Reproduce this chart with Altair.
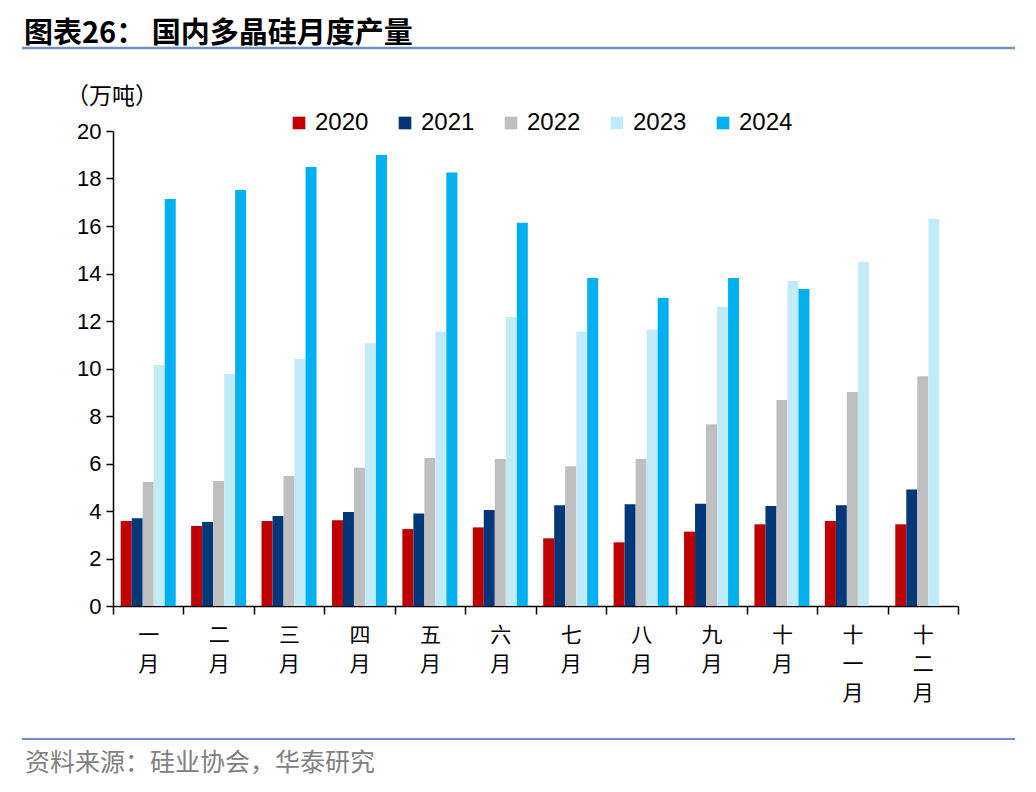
import altair as alt
import pandas as pd

months = ["一 月", "二 月", "三 月", "四 月", "五 月", "六 月",
          "七 月", "八 月", "九 月", "十 月", "十 一 月", "十 二 月"]
years = ["2020", "2021", "2022", "2023", "2024"]
v2020 = [3.58, 3.37, 3.58, 3.61, 3.24, 3.31, 2.85, 2.68, 3.13, 3.44, 3.58, 3.44]
v2021 = [3.69, 3.54, 3.79, 3.96, 3.90, 4.04, 4.24, 4.28, 4.31, 4.21, 4.24, 4.91]
v2022 = [5.22, 5.26, 5.47, 5.82, 6.23, 6.19, 5.88, 6.19, 7.65, 8.67, 9.01, 9.67]
v2023 = [10.15, 9.77, 10.40, 11.06, 11.55, 12.17, 11.55, 11.64, 12.60, 13.68, 14.50, 16.29]
v2024 = [17.14, 17.52, 18.48, 18.99, 18.25, 16.14, 13.81, 12.97, 13.81, 13.35, None, None]
colors = ["#C00000", "#003778", "#BFBFBF", "#C2EBF9", "#00B0F0"]

series = [v2020, v2021, v2022, v2023, v2024]
rows = []
for y, vals in zip(years, series):
    for m, v in zip(months, vals):
        if v is not None:
            rows.append({"月份": m, "年份": y, "产量": v})
df = pd.DataFrame(rows)

CJK = "Noto Sans CJK SC"

bars = alt.Chart(df).mark_bar().encode(
    x=alt.X("月份:N", sort=months,
            scale=alt.Scale(paddingInner=0, paddingOuter=0),
            axis=alt.Axis(title=None, labelAngle=0,
                          labelExpr="split(datum.label, ' ')",
                          tickBand="extent", tickSize=8, tickColor="black",
                          domainColor="black", tickWidth=1.5, domainWidth=1.5,
                          labelFont=CJK, labelFontSize=21, labelLineHeight=29,
                          labelPadding=10, labelColor="black", labelBaseline="top")),
    xOffset=alt.XOffset("年份:N", sort=years,
                        scale=alt.Scale(paddingInner=0, paddingOuter=0.7)),
    y=alt.Y("产量:Q", scale=alt.Scale(domain=[0, 20], nice=False),
            axis=alt.Axis(title=None, values=list(range(0, 21, 2)), grid=False,
                          tickSize=7, tickColor="black", domainColor="black",
                          tickWidth=1.5, domainWidth=1.5,
                          labelFont="Liberation Sans", labelFontSize=22,
                          labelColor="black", labelPadding=5)),
    color=alt.Color("年份:N", sort=years,
                    scale=alt.Scale(domain=years, range=colors),
                    legend=alt.Legend(title=None, orient="none", legendX=174, legendY=-20,
                                      direction="horizontal", symbolType="square",
                                      symbolSize=160, symbolStrokeWidth=0,
                                      labelFont="Liberation Sans", labelFontSize=24,
                                      labelColor="black", labelOffset=4,
                                      columnPadding=24)),
)

title = alt.Chart(pd.DataFrame({"t": ["图表26：  国内多晶硅月度产量"]})).mark_text(
    align="left", baseline="middle", font=CJK, fontSize=29, fontWeight="bold", color="black"
).encode(x=alt.value(-89), y=alt.value(-97), text="t:N")

unit = alt.Chart(pd.DataFrame({"t": ["（万吨）"]})).mark_text(
    align="left", baseline="middle", font=CJK, fontSize=23, color="black"
).encode(x=alt.value(-47), y=alt.value(-34), text="t:N")

source = alt.Chart(pd.DataFrame({"t": ["资料来源：硅业协会，华泰研究"]})).mark_text(
    align="left", baseline="middle", font=CJK, fontSize=25, color="#808080"
).encode(x=alt.value(-88), y=alt.value(632), text="t:N")

top_line = alt.Chart(pd.DataFrame({"a": [0]})).mark_rule(color="#6F8FC0", strokeWidth=2.5).encode(
    x=alt.value(-91), x2=alt.value(902), y=alt.value(-83))
bottom_line = alt.Chart(pd.DataFrame({"a": [0]})).mark_rule(color="#6F8FC0", strokeWidth=2).encode(
    x=alt.value(-91), x2=alt.value(902), y=alt.value(608))

chart = alt.layer(bars, title, unit, source, top_line, bottom_line).properties(
    width=845, height=475,
    padding={"left": 105, "top": 123, "right": 70, "bottom": 176},
    autosize=alt.AutoSizeParams(type="none"),
).configure_view(stroke=None)

chart.save("out.html", embed_options={"renderer": "svg", "actions": False})
